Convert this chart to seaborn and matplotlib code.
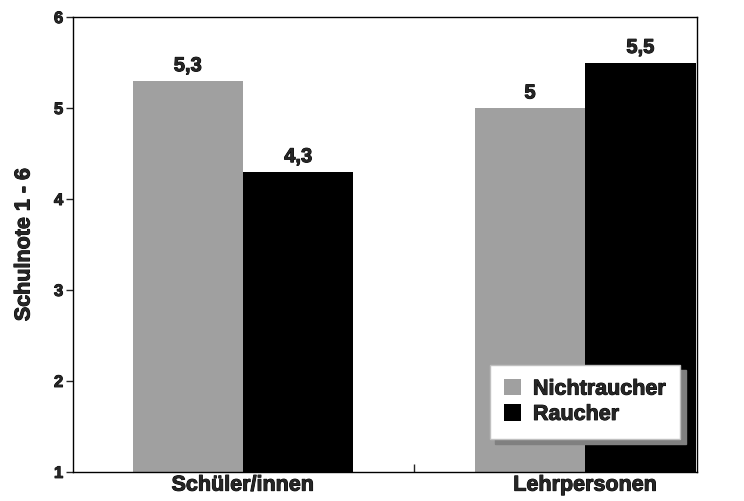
import pandas as pd
import matplotlib.pyplot as plt
import seaborn as sns
import matplotlib
import matplotlib.patheffects as pe

groups = ['Schüler/innen', 'Lehrpersonen']
nichtraucher = [5.3, 5.0]
raucher = [4.3, 5.5]
series = ['Nichtraucher', 'Raucher']
colors = ['#a0a0a0', '#000000']

df = pd.DataFrame({
    'Gruppe': groups * 2,
    'Status': [series[0]] * 2 + [series[1]] * 2,
    'Note': nichtraucher + raucher,
})

sns.set_style('white')
plt.rcParams['font.family'] = ['Liberation Sans', 'DejaVu Sans']
plt.rcParams['font.weight'] = 'bold'

fig = plt.figure(figsize=(7.44, 5.02), dpi=100)
ax = fig.add_axes([0.098, 0.058, 0.839, 0.906])

sns.barplot(data=df, x='Gruppe', y='Note', hue='Status', palette=colors,
            width=0.645, saturation=1, ax=ax, edgecolor='none')

ax.set_ylim(1, 6)
ax.set_xlim(-0.497, 1.327)
ax.set_yticks([1, 2, 3, 4, 5, 6])
ax.set_ylabel('Schulnote 1 - 6', fontsize=15.5, fontweight='bold', labelpad=14)
ax.set_xlabel('')

for s in ax.spines.values():
    s.set_visible(True)
    s.set_color('black')
    s.set_linewidth(1)

ax.tick_params(axis='y', direction='out', length=5, width=1, labelsize=12, pad=2, left=True)
ax.tick_params(axis='x', length=0, labelsize=15.5, pad=2)
ax.set_xticks([0.5], minor=True)
ax.tick_params(axis='x', which='minor', direction='in', length=6, width=1, bottom=True)

for cont in ax.containers:
    labels = [('%g' % b.get_height()).replace('.', ',') for b in cont]
    ax.bar_label(cont, labels=labels, padding=4, fontsize=14.5, fontweight='bold')

leg = ax.legend(loc='lower left', bbox_to_anchor=(0.668, 0.0725), frameon=True,
                shadow={'color': '#808080', 'alpha': 1, 'ox': 4, 'oy': -4},
                fancybox=False, fontsize=15.5, handlelength=0.8, handleheight=0.8,
                handletextpad=0.55, borderpad=0.65, labelspacing=0.2, borderaxespad=0)
leg.get_frame().set_edgecolor('#c0c0c0')
leg.get_frame().set_linewidth(1)

# heavier look, like the original bold font
thick = [pe.withStroke(linewidth=0.7, foreground='black')]
all_text = ax.get_xticklabels() + ax.get_yticklabels() + leg.get_texts() + ax.texts + [ax.yaxis.label]
for t in all_text:
    t.set_fontweight('bold')
    t.set_path_effects(thick)

fig.savefig('out.png', dpi=100)
